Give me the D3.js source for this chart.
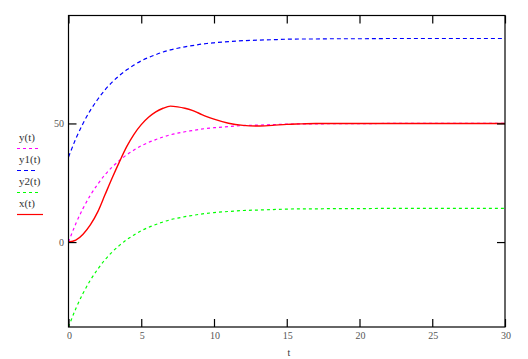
<!DOCTYPE html>
<html lang="en">
<head>
<meta charset="UTF-8">
<title>y(t), y1(t), y2(t), x(t)</title>
<script src="https://cdn.jsdelivr.net/npm/d3@7"></script>
<style>
  body { margin: 0; background: #fff; }
  svg text { font-family: "Liberation Serif", "DejaVu Serif", serif; }
</style>
</head>
<body>
<svg id="chart" width="528" height="359"></svg>
<script>

// time samples
var tValues = [0, 0.5, 1, 1.5, 2, 2.5, 3, 3.5, 4, 4.5, 5, 5.5, 6, 6.5, 7, 7.5, 8, 8.5, 9, 9.5, 10,
               11, 12, 13, 14, 15, 16, 17, 18, 19, 20, 22, 24, 26, 28, 30];

var yValues  = [0, 7.7, 14.2, 19.7, 24.3, 28.3, 31.6, 34.4, 36.8, 38.8, 40.6, 42.0, 43.2, 44.3, 45.2, 45.9, 46.5, 47.0, 47.5, 47.9, 48.2,
                48.7, 49.1, 49.3, 49.5, 49.7, 49.8, 49.8, 49.9, 49.9, 49.9, 50.0, 50.0, 50.0, 50.0, 50.0];

var y1Values = [35.8, 43.5, 50.0, 55.5, 60.1, 64.1, 67.4, 70.2, 72.6, 74.6, 76.4, 77.8, 79.0, 80.1, 81.0, 81.7, 82.3, 82.8, 83.3, 83.7, 84.0,
                84.5, 84.9, 85.1, 85.3, 85.5, 85.6, 85.6, 85.7, 85.7, 85.7, 85.8, 85.8, 85.8, 85.8, 85.8];

var y2Values = [-35.8, -28.1, -21.6, -16.1, -11.5, -7.5, -4.2, -1.4, 1.0, 3.0, 4.8, 6.2, 7.4, 8.5, 9.4, 10.1, 10.7, 11.2, 11.7, 12.1, 12.4,
                12.9, 13.3, 13.5, 13.7, 13.9, 14.0, 14.0, 14.1, 14.1, 14.1, 14.2, 14.2, 14.2, 14.2, 14.2];

var xValues  = [0, 0.8, 3.3, 7.2, 12.6, 19.8, 27.0, 33.8, 40.2, 45.4, 49.5, 52.6, 54.9, 56.4, 57.3, 57.0, 56.4, 55.5, 54.2, 52.9, 51.8,
                50.1, 49.2, 48.9, 49.2, 49.6, 49.8, 50.0, 50.0, 50.0, 50.0, 50.0, 50.0, 50.0, 50.0, 50.0];

var xTicks = [0, 5, 10, 15, 20, 25, 30];
var yTicks = [0, 50];

var seriesNames = ["y(t)", "y1(t)", "y2(t)", "x(t)"];
var seriesColors = ["#ff00ff", "#0000ff", "#00ff00", "#ff0000"];
var seriesDash = ["3,3", "4,3", "3,3", null];

// plot box
var boxLeft = 68.5, boxRight = 505, boxTop = 15.5, boxBottom = 327;
var tickLen = 8;

var svg = d3.select("#chart");

var xScale = d3.scaleLinear().domain([0, 30]).range([boxLeft, boxRight]);
var yScale = d3.scaleLinear().domain([-35.8, 95.5]).range([boxBottom, boxTop]);

var series = [yValues, y1Values, y2Values, xValues];

// clip the curves to the box
svg.append("clipPath").attr("id", "box")
  .append("rect")
  .attr("x", boxLeft).attr("y", boxTop)
  .attr("width", boxRight - boxLeft).attr("height", boxBottom - boxTop);

var line = d3.line()
  .x(function(d, i) { return xScale(tValues[i]); })
  .y(function(d) { return yScale(d); })
  .curve(d3.curveMonotoneX);

svg.selectAll("path.curve")
  .data(series)
  .enter()
  .append("path")
  .attr("class", "curve")
  .attr("clip-path", "url(#box)")
  .attr("d", line)
  .attr("fill", "none")
  .attr("stroke", function(d, i) { return seriesColors[i]; })
  .attr("stroke-width", function(d, i) { return i == 3 ? 1.4 : 1.2; })
  .attr("stroke-dasharray", function(d, i) { return seriesDash[i]; });

// frame
svg.append("rect")
  .attr("x", boxLeft).attr("y", boxTop)
  .attr("width", boxRight - boxLeft).attr("height", boxBottom - boxTop)
  .attr("fill", "none")
  .attr("stroke", "black")
  .attr("stroke-width", 1.2);

// inward ticks on the four sides
var xAxisBottom = d3.axisTop(xScale).tickValues(xTicks).tickSize(tickLen).tickFormat("");
var xAxisTop = d3.axisBottom(xScale).tickValues(xTicks).tickSize(tickLen).tickFormat("");
var yAxisLeft = d3.axisRight(yScale).tickValues(yTicks).tickSize(tickLen).tickFormat("");
var yAxisRight = d3.axisLeft(yScale).tickValues(yTicks).tickSize(tickLen).tickFormat("");

[[xAxisBottom, "translate(0," + boxBottom + ")"],
 [xAxisTop, "translate(0," + boxTop + ")"],
 [yAxisLeft, "translate(" + boxLeft + ",0)"],
 [yAxisRight, "translate(" + boxRight + ",0)"]].forEach(function(a) {
  var g = svg.append("g").attr("transform", a[1]).call(a[0]);
  g.select(".domain").remove();
  g.selectAll("line").attr("stroke", "black").attr("stroke-width", 1.2);
});

// tick labels
svg.selectAll("text.xlab")
  .data(xTicks)
  .enter()
  .append("text")
  .attr("class", "xlab")
  .attr("x", function(d) { return xScale(d) + 1; })
  .attr("y", 339)
  .attr("text-anchor", "middle")
  .attr("font-size", 10)
  .attr("fill", "#555")
  .text(function(d) { return d; });

svg.selectAll("text.ylab")
  .data(yTicks)
  .enter()
  .append("text")
  .attr("class", "ylab")
  .attr("x", 64)
  .attr("y", function(d) { return yScale(d) + 4; })
  .attr("text-anchor", "end")
  .attr("font-size", 10)
  .attr("fill", "#555")
  .text(function(d) { return d; });

svg.append("text")
  .attr("x", 289)
  .attr("y", 356)
  .attr("text-anchor", "middle")
  .attr("font-size", 10)
  .attr("fill", "#333")
  .text("t");

// legend
var legend = svg.selectAll("g.legend")
  .data(seriesNames)
  .enter()
  .append("g")
  .attr("class", "legend")
  .attr("transform", function(d, i) { return "translate(0," + (i * 22) + ")"; });

legend.append("text")
  .attr("x", 19)
  .attr("y", 141)
  .attr("font-size", 11)
  .attr("fill", "#333")
  .text(function(d) { return d; });

legend.append("line")
  .attr("x1", 17)
  .attr("x2", function(d, i) { return i == 3 ? 43 : 38; })
  .attr("y1", 148.5)
  .attr("y2", 148.5)
  .attr("stroke", function(d, i) { return seriesColors[i]; })
  .attr("stroke-width", 1.2)
  .attr("stroke-dasharray", function(d, i) { return seriesDash[i]; });

</script>
</body>
</html>
